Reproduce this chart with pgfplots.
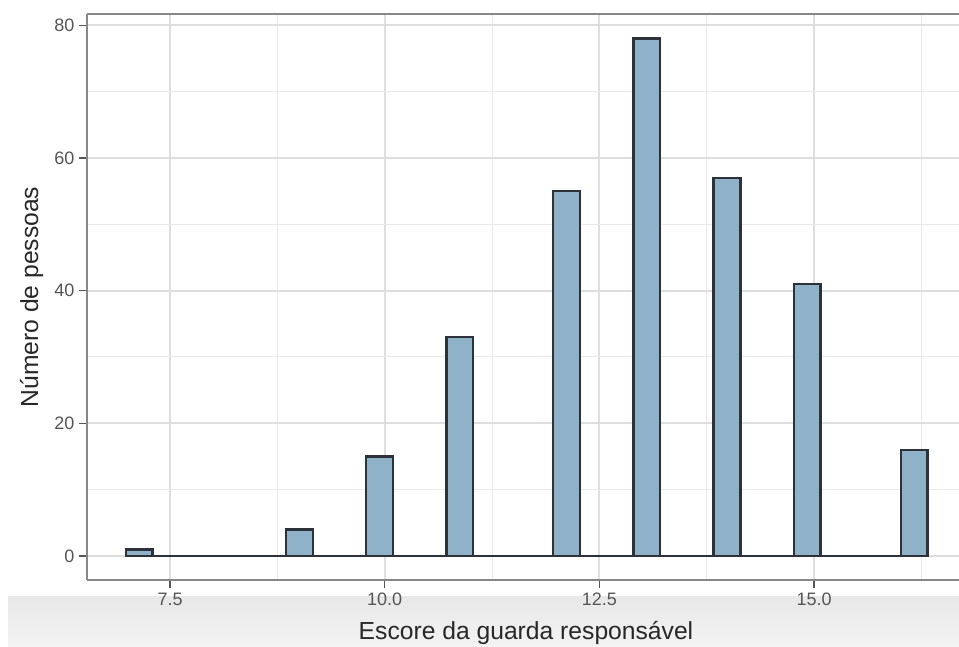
\documentclass[border=0pt]{standalone}
\usepackage{fontspec}
\setmainfont{Liberation Sans}
\usepackage{pgfplots}
\pgfplotsset{compat=1.18}
\definecolor{barfill}{RGB}{143,178,200}
\definecolor{barline}{RGB}{45,50,58}
\definecolor{gridmaj}{RGB}{222,222,222}
\definecolor{gridmin}{RGB}{233,233,233}
\definecolor{bordercol}{RGB}{135,135,135}
\definecolor{tickcol}{RGB}{85,85,85}
\definecolor{ticklab}{RGB}{85,85,85}
\definecolor{titlecol}{RGB}{40,40,40}
\begin{document}
\begin{tikzpicture}[x=0.75pt,y=0.75pt]
\useasboundingbox (0,0) rectangle (959,646);
\clip (0,0) rectangle (959,646);
\fill[white] (0,0) rectangle (959,646);
\shade[top color={rgb,255:red,232;green,232;blue,232}, bottom color={rgb,255:red,243;green,243;blue,243}] (8,0) rectangle (959,50);
\begin{axis}[
  scale only axis,
  width=654pt, height=424.5pt,
  at={(65.25pt,49.5pt)}, anchor=south west,
  xmin=6.533, xmax=16.688,
  ymin=-3.62, ymax=81.69,
  axis x line=box,
  axis y line*=left,
  xtick={7.5,10,12.5,15},
  xticklabels={7.5,10.0,12.5,15.0},
  minor xtick={8.75,11.25,13.75,16.25},
  ytick={0,20,40,60,80},
  minor ytick={10,30,50,70},
  grid=both,
  major grid style={color=gridmaj, line width=1.4pt},
  minor grid style={color=gridmin, line width=0.8pt},
  axis line style={color=bordercol, line width=1.3pt},
  tick align=outside,
  major tick length=6pt,
  minor tick length=0pt,
  xtick pos=bottom,
  ytick pos=left,
  tick style={color=tickcol, line width=1pt},
  ticklabel style={font=\fontsize{13.5}{16}\selectfont, color=ticklab},
  /pgf/number format/assume math mode=true,
]
\addplot[ybar interval, fill=barfill, draw=barline, line width=1.8pt] table {
x y
6.984 1
7.295 0
7.606 0
7.918 0
8.229 0
8.540 0
8.851 4
9.162 0
9.474 0
9.785 15
10.096 0
10.407 0
10.718 33
11.030 0
11.341 0
11.652 0
11.963 55
12.274 0
12.586 0
12.897 78
13.208 0
13.519 0
13.830 57
14.142 0
14.453 0
14.764 41
15.075 0
15.386 0
15.698 0
16.009 16
16.320 16
};
\end{axis}
\node[anchor=base, font=\fontsize{18.5}{22}\selectfont, text=titlecol, inner sep=0pt] at (526,7) {Escore da guarda responsável};
\node[anchor=base, rotate=90, font=\fontsize{18.5}{22}\selectfont, text=titlecol, inner sep=0pt] at (38,349) {Número de pessoas};
\end{tikzpicture}
\end{document}
